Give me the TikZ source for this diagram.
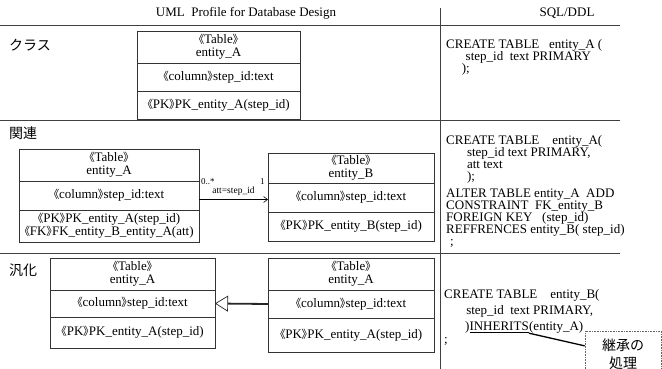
\documentclass[tikz,border=0pt]{standalone}
\usepackage{fontspec}
\setmainfont{Liberation Serif}
\newfontfamily\jp{Noto Sans CJK JP}
\newfontfamily\jpp[RawFeature=+palt]{Noto Sans CJK JP}
\usetikzlibrary{positioning,arrows.meta}
\newcommand\stp[1]{{\jpp\fontsize{11}{11}\selectfont 《}#1{\jpp\fontsize{11}{11}\selectfont 》}}
\begin{document}
\begin{tikzpicture}[x=1pt,y=-1pt,>={Straight Barb[length=4pt,width=6pt]},
  cell/.style={draw=black!80,line width=0.6pt,outer sep=0pt,inner sep=0pt,align=center,anchor=north,
    font=\fontsize{13}{13}\selectfont},
  sql/.style={anchor=north west,inner sep=0pt,align=left,font=\fontsize{13}{12}\selectfont},
  sqlb/.style={sql,font=\fontsize{13}{16}\selectfont},
  rule/.style={line width=0.8pt,black!75},
  sec/.style={anchor=west,inner sep=0pt,font=\jp\fontsize{14}{14}\selectfont}]
\useasboundingbox (0,0) rectangle (662,369);
\node (h1) at (246,13) {\fontsize{13}{13}\selectfont UML\ \ Profile for Database Design};
\node (h2) at (567,13) {\fontsize{13}{13}\selectfont SQL/DDL};
\draw[rule] (0,25) -- (620,25);
\draw[rule] (0,120) -- (620,120);
\draw[rule] (0,253) -- (620,253);
\draw[line width=0.6pt,black!75] (440,8) -- (440,369);

\node[sec] (s1) at (9,45) {クラス};
\node[sec] (s2) at (9,133) {関連};
\node[sec] (s3) at (9,270) {汎化};

\node[cell,minimum width=163pt,minimum height=32pt] (A1) at (218.5,31) {\stp{Table}\\entity\_A};
\node[cell,minimum width=163pt,minimum height=28pt,below=0pt of A1] (A1c) {\stp{column}step\_id:text};
\node[cell,minimum width=163pt,minimum height=28pt,below=0pt of A1c] (A1k) {\stp{PK}PK\_entity\_A(step\_id)};

\node[cell,minimum width=180pt,minimum height=32pt] (A2) at (109,149) {\stp{Table}\\entity\_A};
\node[cell,minimum width=180pt,minimum height=29pt,below=0pt of A2] (A2c) {\stp{column}step\_id:text};
\node[cell,minimum width=180pt,minimum height=32pt,below=0pt of A2c] (A2k) {\stp{PK}PK\_entity\_A(step\_id)\\\stp{FK}FK\_entity\_B\_entity\_A(att)};

\node[cell,minimum width=166pt,minimum height=30pt] (B2) at (351,153) {\stp{Table}\\entity\_B};
\node[cell,minimum width=166pt,minimum height=29pt,below=0pt of B2] (B2c) {\stp{column}step\_id:text};
\node[cell,minimum width=166pt,minimum height=29pt,below=0pt of B2c] (B2k) {\stp{PK}PK\_entity\_B(step\_id)};

\draw[->,line width=0.6pt] ([yshift=-4pt]A2c.east) -- node[above=0pt,font=\fontsize{9.5}{9.5}\selectfont]{att=step\_id}
  node[pos=0.13,above=11pt,font=\fontsize{9}{9}\selectfont]{0..*}
  node[pos=0.92,above=11pt,font=\fontsize{9}{9}\selectfont]{1} ([yshift=-4pt]A2c.east -| B2c.west);

\node[cell,minimum width=165pt,minimum height=32pt] (A3) at (132.5,258) {\stp{Table}\\entity\_A};
\node[cell,minimum width=165pt,minimum height=27pt,below=0pt of A3] (A3c) {\stp{column}step\_id:text};
\node[cell,minimum width=165pt,minimum height=31pt,below=0pt of A3c] (A3k) {\stp{PK}PK\_entity\_A(step\_id)};

\node[cell,minimum width=166pt,minimum height=32pt] (D3) at (351,258) {\stp{Table}\\entity\_A};
\node[cell,minimum width=166pt,minimum height=28pt,below=0pt of D3] (D3c) {\stp{column}step\_id:text};
\node[cell,minimum width=166pt,minimum height=34pt,below=0pt of D3c] (D3k) {\stp{PK}PK\_entity\_A(step\_id)};

\draw[line width=1.8pt,black!85,-{Triangle[open,length=13pt,width=16pt,line width=0.7pt]}] (D3c.west) -- (A3c.east);

\node[sql] (q1) at (446,39) {CREATE TABLE\ \ \ entity\_A\ (\\\hspace*{1.5em}step\_id\ \ text PRIMARY\\\hspace*{1.2em});};
\node[sql] (q2) at (446,135) {CREATE TABLE\ \ \ \ entity\_A(\\\hspace*{1.6em}step\_id text PRIMARY,\\\hspace*{1.6em}att text\\\hspace*{1.6em});};
\node[sql] (q3) at (446,189) {ALTER TABLE\ entity\_A\ \ ADD\\CONSTRAINT\ \ FK\_entity\_B\\FOREIGN KEY\ \ \ (step\_id)\\REFFRENCES entity\_B( step\_id)\\\hspace*{0.3em};};

\node[sqlb] (q4) at (444,289) {CREATE TABLE\ \ \ \ entity\_B(\\\hspace*{1.7em}step\_id\ \ text PRIMARY,};
\node[sql] (inh) at (465,321) {)\underline{INHERITS}};
\node[sql,anchor=west,right=0pt of inh] (inh2) {(entity\_A)};
\node[sql] (q5) at (444,337) {;};

\node[draw=black!60,densely dotted,line width=0.6pt,minimum width=76pt,minimum height=46pt,inner sep=0pt,align=center,
  font=\jp\fontsize{14}{18}\selectfont] (note) at (623,354) {継承の\\処理};
\draw[line width=1.3pt] (inh.south east) -- (note.168);
\end{tikzpicture}
\end{document}
